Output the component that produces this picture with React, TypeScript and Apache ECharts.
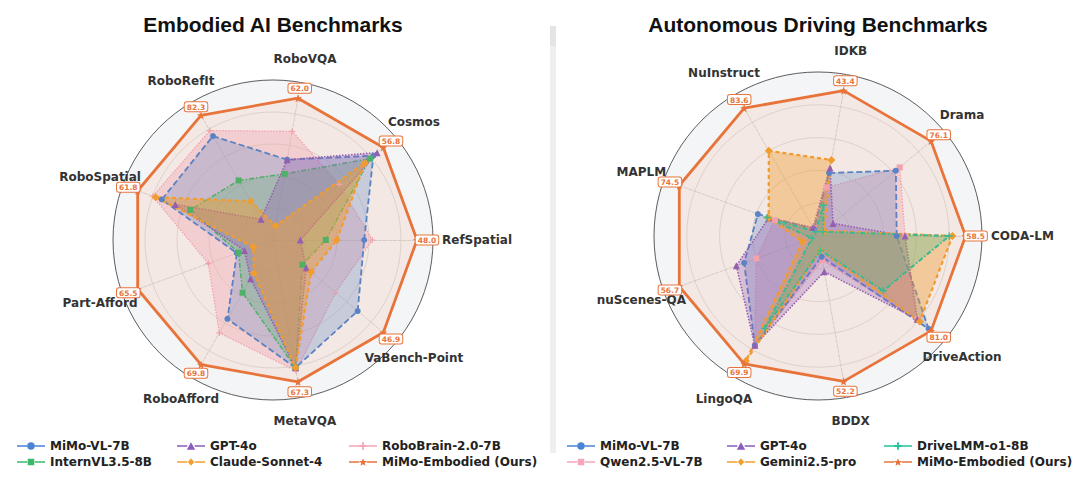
import React, { useEffect, useRef } from 'react';
import * as echarts from 'echarts';

// ---------- Embodied AI benchmarks (left) ----------
const embodiedAxes = ['RefSpatial', 'Cosmos', 'RoboVQA', 'RoboRefIt', 'RoboSpatial', 'Part-Afford', 'RoboAfford', 'MetaVQA', 'VaBench-Point'];
const embOurs = [48.0, 56.8, 62.0, 82.3, 61.8, 65.5, 69.8, 67.3, 46.9];
const embMiMoVL = [30.4, 51.7, 35.1, 68.6, 50.8, 17.5, 44.2, 60.6, 36.0];
const embInternVL = [17.6, 49.9, 28.9, 39.3, 37.8, 16.7, 29.5, 60.6, 12.5];
const embGPT4o = [9.1, 53.6, 35.1, 13.7, 44.6, 13.8, 21.7, 60.6, 14.1];
const embClaude = [21.3, 47.3, 6.2, 25.6, 53.6, 9.5, 18.6, 60.6, 16.2];
const embRoboBrain = [33.1, 34.1, 47.5, 72.2, 54.9, 31.3, 52.0, 62.1, 26.6];

// ---------- Autonomous driving benchmarks (right) ----------
const drivingAxes = ['CODA-LM', 'Drama', 'IDKB', 'NuInstruct', 'MAPLM', 'nuScenes-QA', 'LingoQA', 'BDDX', 'DriveAction'];
const drvOurs = [58.5, 76.1, 43.4, 83.6, 74.5, 56.7, 69.9, 52.2, 81.0];
const drvMiMoVL = [31.2, 52.4, 18.8, 4.6, 32.3, 30.2, 59.8, 7.5, 79.2];
const drvQwen = [34.5, 55.0, 14.5, 4.6, 23.2, 25.2, 59.8, 8.7, 71.1];
const drvGPT4o = [34.5, 10.1, 20.3, 5.6, 26.5, 33.4, 59.8, 12.8, 71.1];
const drvGemini = [53.3, 4.2, 22.7, 55.7, 26.5, 6.3, 68.3, 5.2, 72.9];
const drvDriveLMM = [52.0, 3.4, 9.2, 2.8, 27.3, 2.5, 50.5, 5.2, 46.8];

const titles = ['Embodied AI Benchmarks', 'Autonomous Driving Benchmarks'];
const legendLeftCols = [['MiMo-VL-7B', 'InternVL3.5-8B'], ['GPT-4o', 'Claude-Sonnet-4'], ['RoboBrain-2.0-7B', 'MiMo-Embodied (Ours)']];
const legendRightCols = [['MiMo-VL-7B', 'Qwen2.5-VL-7B'], ['GPT-4o', 'Gemini2.5-pro'], ['DriveLMM-o1-8B', 'MiMo-Embodied (Ours)']];

const C = {
  blue: '#4A84D4',
  green: '#3DB86B',
  purple: '#8B5CBF',
  amber: '#F2A12E',
  pink: '#F4A7B9',
  teal: '#26C29C',
  ours: '#E8743B',
};

const FONT = 'DejaVu Sans';
const SCALE = 0.9; // MiMo-Embodied sits at 90% of outer radius

function starPath(cx: number, cy: number, R: number, r: number) {
  let d = '';
  for (let i = 0; i < 10; i++) {
    const a = -Math.PI / 2 + (i * Math.PI) / 5;
    const rad = i % 2 === 0 ? R : r;
    d += (i === 0 ? 'M' : 'L') + (cx + rad * Math.cos(a)).toFixed(2) + ',' + (cy + rad * Math.sin(a)).toFixed(2) + ' ';
  }
  return d + 'Z';
}

const SYM = {
  circle: 'circle',
  square: 'rect',
  triangle: 'triangle',
  diamond: 'diamond',
  plus: 'path://M4,0 H6 V4 H10 V6 H6 V10 H4 V6 H0 V4 H4 Z',
  star: 'path://' + starPath(5, 5, 5, 2.2),
};

const LINE = 'M0,3.2 H11 V4.8 H0 Z M19,3.2 H30 V4.8 H19 Z ';
const ICON: Record<string, string> = {
  circle: 'path://' + LINE + 'M11,4 A4,4 0 1 1 19,4 A4,4 0 1 1 11,4 Z',
  square: 'path://' + LINE + 'M11.5,0.5 H18.5 V7.5 H11.5 Z',
  triangle: 'path://' + LINE + 'M15,0 L19.5,8 L10.5,8 Z',
  diamond: 'path://' + LINE + 'M15,0 L18.5,4 L15,8 L11.5,4 Z',
  plus: 'path://' + LINE + 'M14,0 H16 V3 H19 V5 H16 V8 H14 V5 H11 V3 H14 Z',
  star: 'path://' + LINE + starPath(15, 4.3, 4.5, 2),
};

const CHARTS = [
  { cx: 273, cy: 240, r: 160, axes: embodiedAxes, ours: embOurs },
  { cx: 818, cy: 236, r: 164, axes: drivingAxes, ours: drvOurs },
];

function series(name: string, radarIndex: number, values: number[], color: string, dash: any, width: number, symbol: string, size: number, fill: number, z = 2) {
  return {
    type: 'radar',
    name,
    radarIndex,
    z,
    color,
    symbol,
    symbolSize: size,
    lineStyle: { color, width, type: dash },
    itemStyle: { color },
    areaStyle: { color, opacity: fill },
    data: [{ value: values, name }],
  };
}

function labelSeries(radarIndex: number, ours: number[]) {
  return {
    type: 'radar',
    name: '_labels' + radarIndex,
    radarIndex,
    z: 10,
    silent: true,
    symbol: 'circle',
    symbolSize: 1,
    lineStyle: { opacity: 0, width: 0 },
    itemStyle: { color: 'rgba(0,0,0,0)' },
    data: ours.map((_, k) => {
      const a = (k * 2 * Math.PI) / ours.length;
      return {
        value: ours,
        label: {
          show: true,
          position: 'inside',
          offset: [10 * Math.cos(a), -10 * Math.sin(a)],
          formatter: (p: any) => {
            const d = p.dimensionIndex != null ? p.dimensionIndex : ours.indexOf(p.value);
            return d === k ? '{b|' + ours[k].toFixed(1) + '}' : '';
          },
          rich: {
            b: {
              color: C.ours,
              fontSize: 7.5,
              fontWeight: 'bold',
              fontFamily: FONT,
              lineHeight: 9,
              backgroundColor: '#ffffff',
              borderColor: C.ours,
              borderWidth: 1,
              borderRadius: 2,
              padding: [1, 2, 0, 2],
            },
          },
        },
      };
    }),
  };
}

function radarCfg(i: number) {
  const c = CHARTS[i];
  return {
    center: [c.cx, c.cy],
    radius: c.r,
    startAngle: 0,
    shape: 'circle',
    splitNumber: 5,
    indicator: c.axes.map((n, k) => ({ name: n, min: 0, max: c.ours[k] / SCALE })),
    axisName: { show: false },
    splitLine: { lineStyle: { color: ['#d6d6d6', '#d6d6d6', '#d6d6d6', '#d6d6d6', '#d6d6d6', '#333333'], width: 0.8 } },
    splitArea: { show: true, areaStyle: { color: ['#f4f5f7'] } },
    axisLine: { lineStyle: { color: '#cccccc', type: 'dashed', width: 0.8 } },
    axisTick: { show: false },
    axisLabel: { show: false },
  };
}

function legendCol(names: string[], icons: string[], left: number) {
  return {
    orient: 'vertical',
    left,
    top: 435,
    itemGap: 4,
    itemWidth: 28,
    itemHeight: 8,
    selectedMode: false,
    itemStyle: { borderWidth: 0 },
    textStyle: { fontFamily: FONT, fontWeight: 'bold', fontSize: 12, color: '#222' },
    data: names.map((n, i) => ({ name: n, icon: ICON[icons[i]] })),
  };
}

export default function App() {
  const ref = useRef<HTMLDivElement>(null);
  useEffect(() => {
    document.body.style.margin = '0';
    const chart = echarts.init(ref.current!, undefined, { renderer: 'svg' });

    const graphics: any[] = [];
    CHARTS.forEach((c, i) => {
      graphics.push({
        type: 'text', x: c.cx, y: 24, silent: true, z: 5,
        style: { text: titles[i], fill: '#111', fontSize: 21, fontWeight: 'bold', fontFamily: 'Liberation Sans', align: 'center', verticalAlign: 'middle' },
      });
      const R = c.r + 24;
      c.axes.forEach((n, k) => {
        const a = (k * 2 * Math.PI) / c.axes.length;
        const horizontal = k === 0;
        graphics.push({
          type: 'text',
          x: horizontal ? c.cx + c.r + 9 : c.cx + R * Math.cos(a),
          y: c.cy - R * Math.sin(a),
          silent: true, z: 1,
          style: { text: n, fill: '#333', fontSize: 12, fontWeight: 'bold', fontFamily: FONT, align: horizontal ? 'left' : 'center', verticalAlign: 'middle' },
        });
      });
    });
    graphics.push({ type: 'rect', silent: true, z: 0, shape: { x: 550, y: 26, width: 6, height: 427 }, style: { fill: '#efefef' } });
    graphics.push({ type: 'rect', silent: true, z: 0, shape: { x: 550, y: 26, width: 6, height: 20 }, style: { fill: '#e4e4e4' } });

    const dashed = [6, 3];
    const dashDot = [5, 2, 1.5, 2];
    const dotted = [1.5, 1.5];
    const shortDash = [4, 3];

    chart.setOption({
      animation: false,
      backgroundColor: '#ffffff',
      radar: [radarCfg(0), radarCfg(1)],
      graphic: graphics,
      legend: [
        legendCol(legendLeftCols[0], ['circle', 'square'], 12),
        legendCol(legendLeftCols[1], ['triangle', 'diamond'], 172),
        legendCol(legendLeftCols[2], ['plus', 'star'], 344),
        legendCol(legendRightCols[0], ['circle', 'square'], 562),
        legendCol(legendRightCols[1], ['triangle', 'diamond'], 722),
        legendCol(legendRightCols[2], ['plus', 'star'], 879),
      ],
      series: [
        series('RoboBrain-2.0-7B', 0, embRoboBrain, C.pink, dotted, 1.3, SYM.plus, 6, 0.35),
        series('MiMo-VL-7B', 0, embMiMoVL, C.blue, dashed, 1.8, SYM.circle, 6, 0.28),
        series('InternVL3.5-8B', 0, embInternVL, C.green, dashDot, 1.5, SYM.square, 6, 0.28),
        series('GPT-4o', 0, embGPT4o, C.purple, dotted, 1.6, SYM.triangle, 7, 0.3),
        series('Claude-Sonnet-4', 0, embClaude, C.amber, shortDash, 2.2, SYM.diamond, 8, 0.45),
        series('MiMo-Embodied (Ours)', 0, embOurs, C.ours, 'solid', 2.8, SYM.star, 8, 0.1, 3),
        labelSeries(0, embOurs),

        series('Qwen2.5-VL-7B', 1, drvQwen, C.pink, dotted, 1.3, SYM.square, 6, 0.35),
        series('MiMo-VL-7B', 1, drvMiMoVL, C.blue, dashed, 1.8, SYM.circle, 6, 0.28),
        series('GPT-4o', 1, drvGPT4o, C.purple, dotted, 1.6, SYM.triangle, 7, 0.3),
        series('Gemini2.5-pro', 1, drvGemini, C.amber, shortDash, 2.2, SYM.diamond, 8, 0.4),
        series('DriveLMM-o1-8B', 1, drvDriveLMM, C.teal, dashDot, 2, SYM.plus, 7, 0.28),
        series('MiMo-Embodied (Ours)', 1, drvOurs, C.ours, 'solid', 2.8, SYM.star, 8, 0.1, 3),
        labelSeries(1, drvOurs),
      ],
    });
    return () => chart.dispose();
  }, []);
  return <div ref={ref} style={{ width: 1080, height: 485 }} />;
}
